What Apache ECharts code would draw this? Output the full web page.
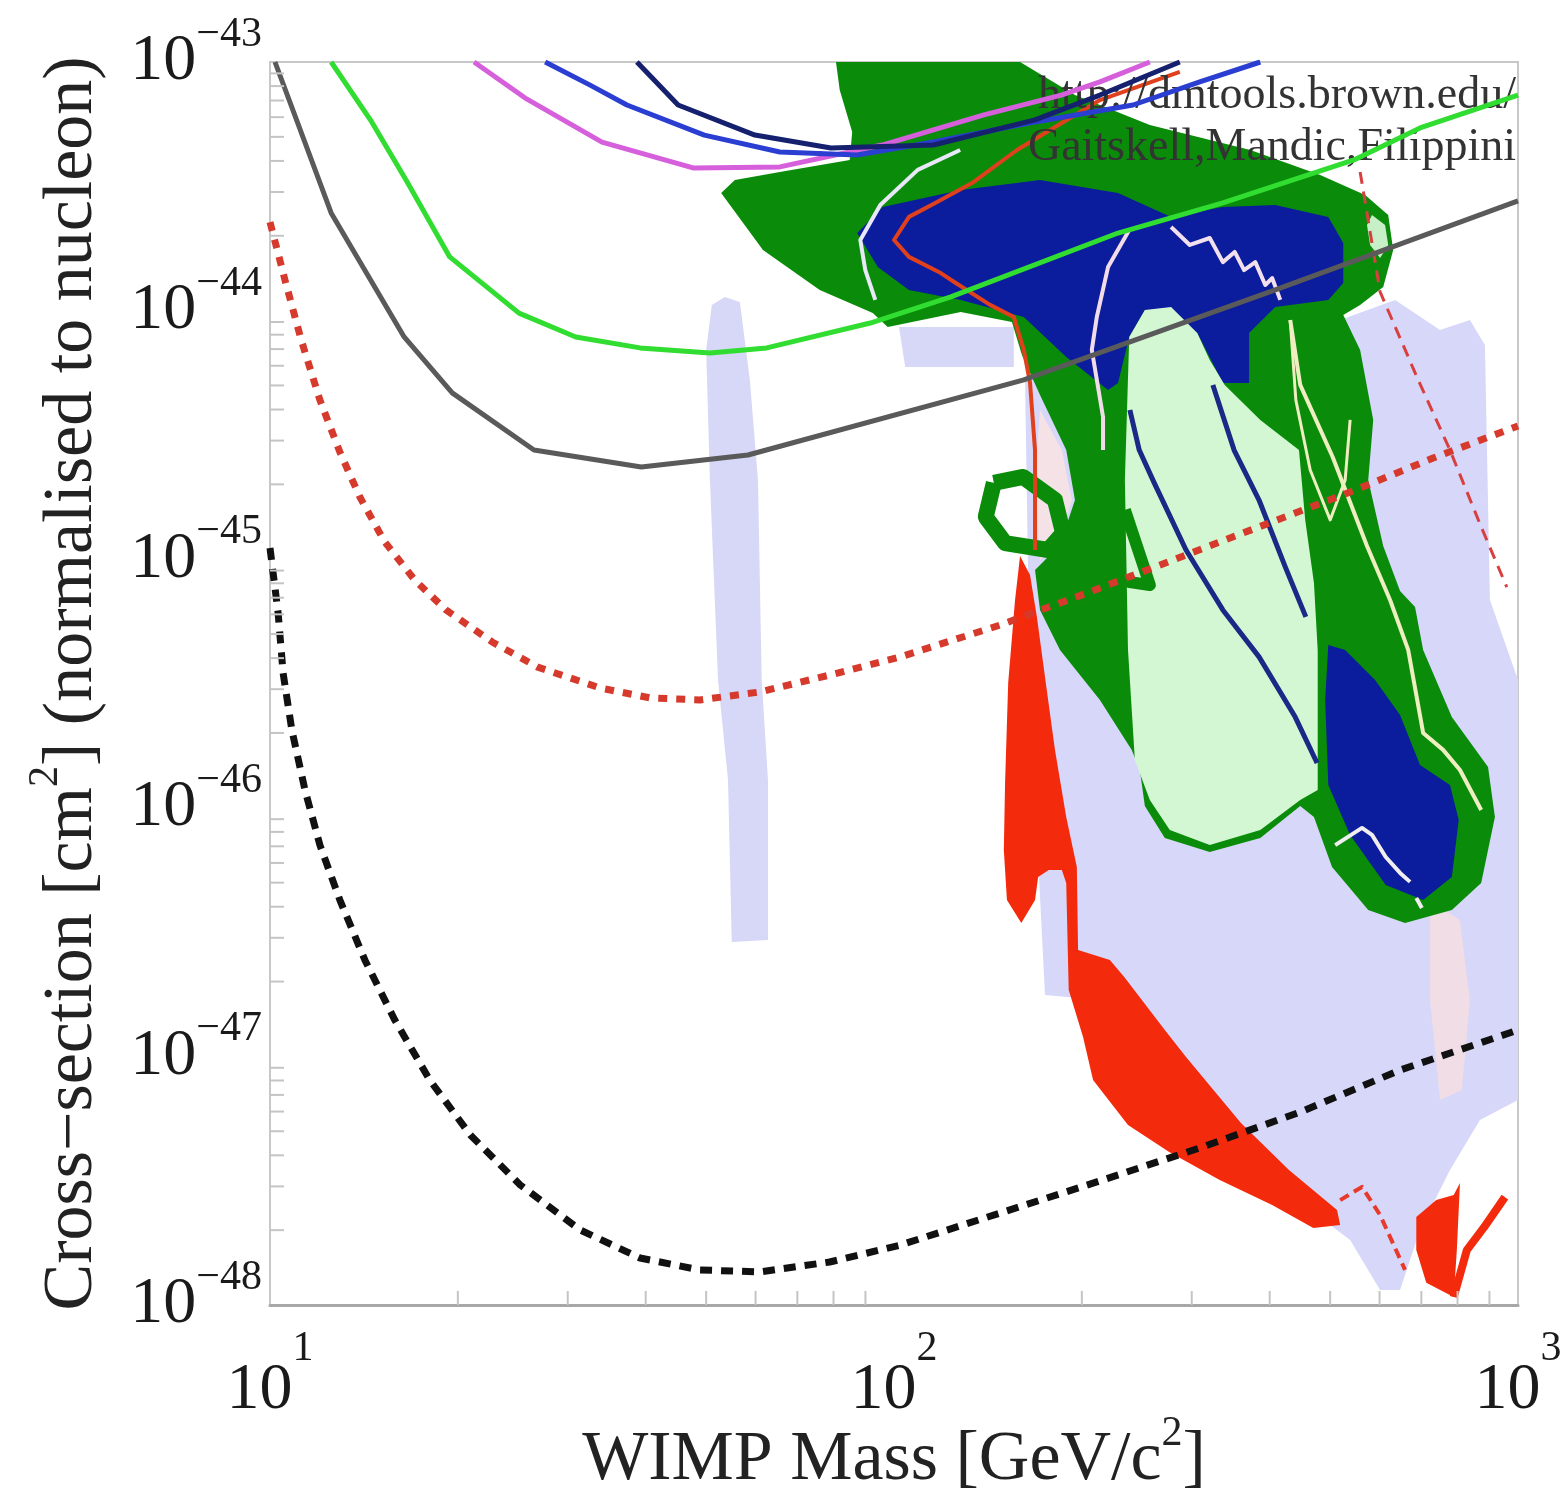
<!DOCTYPE html>
<html><head><meta charset="utf-8">
<script src="https://cdn.jsdelivr.net/npm/echarts@6/dist/echarts.min.js"></script>
<style>html,body{margin:0;padding:0;background:#fff}#c{width:1563px;height:1492px}</style>
</head><body><div id="c"></div>
<script>
// x = log10(WIMP mass / GeV), y = log10(cross-section / cm^2)
const xTickExponents = [1, 2, 3];
const yTickExponents = [-48, -47, -46, -45, -44, -43];
const minorTickMultipliers = [2, 3, 4, 5, 6, 7, 8, 9];

// exclusion limit curves
const greyLimit = [[1.008,-43.0],[1.098,-43.607],[1.215,-44.106],[1.292,-44.331],[1.423,-44.561],[1.595,-44.629],[1.766,-44.581],[2.208,-44.279],[2.611,-43.917],[3.0,-43.559]];
const greenLimit = [[1.098,-43.0],[1.163,-43.241],[1.218,-43.475],[1.288,-43.784],[1.399,-44.010],[1.490,-44.106],[1.593,-44.150],[1.705,-44.171],[1.796,-44.150],[1.962,-44.050],[2.091,-43.945],[2.359,-43.688],[2.527,-43.567],[2.737,-43.394],[2.843,-43.265],[3.0,-43.133]];
const magentaLimit = [[1.327,-43.0],[1.409,-43.145],[1.532,-43.322],[1.678,-43.426],[1.817,-43.422],[1.981,-43.334],[2.144,-43.213],[2.268,-43.133],[2.330,-43.080],[2.410,-43.0]];
const blueLimit = [[1.441,-43.0],[1.513,-43.093],[1.572,-43.173],[1.696,-43.294],[1.817,-43.362],[1.941,-43.374],[2.063,-43.322],[2.226,-43.241],[2.383,-43.173],[2.490,-43.080],[2.587,-43.0]];
const navyLimit = [[1.588,-43.0],[1.654,-43.173],[1.777,-43.294],[1.899,-43.346],[2.063,-43.334],[2.226,-43.233],[2.330,-43.133],[2.458,-43.0]];
const redProjection = [[1.0,-43.644],[1.024,-43.877],[1.050,-44.118],[1.080,-44.360],[1.112,-44.569],[1.144,-44.750],[1.184,-44.931],[1.232,-45.084],[1.282,-45.204],[1.356,-45.333],[1.429,-45.434],[1.529,-45.518],[1.609,-45.558],[1.689,-45.566],[1.785,-45.534],[1.897,-45.466],[2.010,-45.393],[2.170,-45.265],[2.322,-45.124],[2.439,-45.011],[2.614,-44.842],[2.731,-44.730],[2.864,-44.593],[3.0,-44.464]];
const blackProjection = [[1.0,-44.955],[1.013,-45.216],[1.021,-45.458],[1.035,-45.687],[1.056,-45.928],[1.080,-46.150],[1.112,-46.371],[1.152,-46.612],[1.200,-46.854],[1.256,-47.095],[1.321,-47.316],[1.401,-47.517],[1.497,-47.698],[1.593,-47.811],[1.689,-47.859],[1.785,-47.867],[1.897,-47.827],[2.010,-47.759],[2.170,-47.630],[2.330,-47.501],[2.490,-47.368],[2.651,-47.224],[2.811,-47.055],[3.0,-46.894]];
const redThin = [[2.458,-43.040],[2.330,-43.153],[2.197,-43.354],[2.125,-43.487],[2.066,-43.567],[2.024,-43.623],[2.0,-43.716],[2.024,-43.784],[2.075,-43.849],[2.099,-43.889],[2.154,-43.977],[2.192,-44.026],[2.208,-44.158],[2.218,-44.291],[2.226,-44.561],[2.226,-44.963]];
const redDashedRight = [[2.747,-43.442],[2.779,-43.925],[2.838,-44.267],[2.891,-44.561],[2.939,-44.858],[2.982,-45.112]];

// allowed regions
const lavenderBand = [[1.708,-43.977],[1.729,-43.945],[1.753,-43.965],[1.769,-44.279],[1.782,-44.681],[1.788,-45.486],[1.798,-45.888],[1.798,-46.532],[1.740,-46.540],[1.734,-45.888],[1.718,-45.486],[1.705,-44.681],[1.699,-44.158]];
const lavenderMain = [[2.210,-44.279],[2.282,-44.118],[2.715,-44.038],[2.803,-43.957],[2.875,-44.078],[2.923,-44.038],[2.947,-44.138],[2.955,-45.164],[3.0,-45.486],[3.0,-47.175],[2.939,-47.256],[2.891,-47.457],[2.843,-47.698],[2.811,-47.940],[2.779,-47.940],[2.731,-47.739],[2.699,-47.678],[2.651,-47.578],[2.330,-46.773],[2.242,-46.753],[2.218,-45.566]];
const lavenderPatch = [[2.008,-44.066],[2.192,-44.066],[2.192,-44.227],[2.018,-44.227]];
const pinkRight = [[2.859,-46.371],[2.907,-46.451],[2.923,-46.773],[2.910,-47.135],[2.875,-47.175],[2.859,-46.773]];
const pinkLeft = [[2.234,-44.4],[2.269,-44.561],[2.285,-44.762],[2.263,-44.943],[2.234,-45.003],[2.226,-44.681]];
const redStrip = [[2.202,-44.987],[2.218,-45.064],[2.229,-45.232],[2.247,-45.566],[2.258,-45.767],[2.276,-46.037],[2.293,-46.238],[2.295,-46.572],[2.346,-46.612],[2.369,-46.681],[2.434,-46.894],[2.468,-47.002],[2.556,-47.268],[2.633,-47.457],[2.710,-47.618],[2.715,-47.678],[2.672,-47.690],[2.606,-47.598],[2.522,-47.497],[2.441,-47.385],[2.375,-47.276],[2.319,-47.095],[2.303,-46.922],[2.280,-46.733],[2.276,-46.302],[2.269,-46.250],[2.248,-46.250],[2.231,-46.278],[2.226,-46.371],[2.204,-46.463],[2.181,-46.371],[2.176,-46.170],[2.178,-45.900],[2.183,-45.498],[2.194,-45.164]];
const redLobe = [[2.837,-47.646],[2.869,-47.578],[2.897,-47.558],[2.907,-47.509],[2.902,-47.779],[2.897,-47.968],[2.853,-47.911],[2.837,-47.779]];
const redArm = [[2.897,-47.968],[2.918,-47.779],[2.946,-47.686],[2.979,-47.566]];
const redHook = [[2.715,-47.578],[2.750,-47.525],[2.779,-47.638],[2.819,-47.859]];
const greenOuter = [[1.907,-43.0],[2.202,-43.0],[2.290,-43.133],[2.410,-43.253],[2.571,-43.354],[2.683,-43.455],[2.755,-43.535],[2.792,-43.615],[2.800,-43.756],[2.784,-43.905],[2.747,-43.977],[2.720,-44.018],[2.747,-44.158],[2.768,-44.440],[2.760,-44.681],[2.784,-44.947],[2.811,-45.128],[2.835,-45.192],[2.848,-45.365],[2.894,-45.635],[2.952,-45.836],[2.963,-46.037],[2.941,-46.302],[2.894,-46.411],[2.819,-46.463],[2.760,-46.411],[2.702,-46.238],[2.673,-46.037],[2.651,-45.993],[2.587,-46.121],[2.506,-46.178],[2.434,-46.121],[2.402,-45.993],[2.394,-45.848],[2.381,-45.767],[2.330,-45.566],[2.266,-45.365],[2.234,-45.204],[2.226,-45.043],[2.266,-44.943],[2.290,-44.762],[2.276,-44.561],[2.234,-44.340],[2.205,-44.179],[2.189,-44.046],[2.107,-44.006],[1.990,-44.066],[1.966,-44.010],[1.881,-43.917],[1.790,-43.756],[1.723,-43.527],[1.745,-43.475],[1.817,-43.442],[1.929,-43.394],[1.933,-43.282],[1.913,-43.113]];
const greenLoop = [[2.160,-44.693],[2.207,-44.669],[2.258,-44.762],[2.271,-44.895],[2.247,-44.963],[2.178,-44.935],[2.147,-44.830],[2.160,-44.693]];
const greenHook = [[2.370,-44.802],[2.394,-44.983],[2.410,-45.104],[2.378,-45.092],[2.330,-45.043],[2.282,-45.003]];
const blueTop = [[1.941,-43.688],[1.982,-43.583],[2.107,-43.515],[2.234,-43.475],[2.359,-43.527],[2.444,-43.623],[2.527,-43.583],[2.611,-43.575],[2.696,-43.623],[2.720,-43.728],[2.720,-43.889],[2.696,-43.957],[2.611,-43.986],[2.569,-44.090],[2.569,-44.291],[2.527,-44.291],[2.486,-44.090],[2.402,-43.998],[2.377,-44.106],[2.359,-44.291],[2.343,-44.319],[2.276,-44.187],[2.208,-44.026],[2.107,-43.957],[2.024,-43.917],[1.974,-43.825]];
const lightGreen = [[2.370,-44.681],[2.377,-44.106],[2.402,-43.998],[2.444,-43.986],[2.486,-44.090],[2.506,-44.199],[2.530,-44.299],[2.587,-44.440],[2.649,-44.561],[2.659,-44.842],[2.673,-45.096],[2.679,-45.365],[2.679,-45.928],[2.651,-45.969],[2.587,-46.089],[2.506,-46.150],[2.442,-46.089],[2.410,-45.969],[2.386,-45.808],[2.375,-45.365]];
const lightGreenSmall = [[2.766,-43.615],[2.787,-43.656],[2.792,-43.736],[2.779,-43.788],[2.763,-43.736],[2.758,-43.656]];
const blueLower = [[2.696,-45.345],[2.723,-45.365],[2.771,-45.486],[2.811,-45.627],[2.843,-45.828],[2.891,-45.908],[2.905,-46.049],[2.894,-46.278],[2.848,-46.371],[2.788,-46.311],[2.731,-46.109],[2.696,-45.908],[2.691,-45.566]];
const navyInner1 = [[2.378,-44.4],[2.393,-44.561],[2.417,-44.693],[2.468,-44.963],[2.527,-45.204],[2.585,-45.393],[2.643,-45.635],[2.678,-45.820]];
const navyInner2 = [[2.511,-44.299],[2.545,-44.561],[2.585,-44.762],[2.627,-45.031],[2.660,-45.232]];
const paleEdge = [[2.106,-43.354],[2.038,-43.434],[1.978,-43.575],[1.946,-43.716],[1.954,-43.837],[1.970,-43.957]];
const paleZigzag = [[2.444,-43.664],[2.474,-43.736],[2.506,-43.708],[2.527,-43.805],[2.546,-43.764],[2.561,-43.837],[2.579,-43.805],[2.595,-43.897],[2.606,-43.869],[2.619,-43.957]];
const palePink = [[2.377,-43.676],[2.343,-43.825],[2.325,-44.026],[2.317,-44.158],[2.335,-44.428],[2.335,-44.561]];
const creamOuter = [[2.635,-44.038],[2.651,-44.299],[2.703,-44.589],[2.758,-44.947],[2.795,-45.164],[2.824,-45.365],[2.848,-45.699],[2.880,-45.767],[2.907,-45.848],[2.941,-46.009]];
const creamInner = [[2.635,-44.038],[2.644,-44.360],[2.667,-44.641],[2.699,-44.842],[2.723,-44.681],[2.731,-44.440]];
const whiteHook = [[2.707,-46.150],[2.750,-46.081],[2.766,-46.109],[2.788,-46.198],[2.811,-46.262],[2.827,-46.298]];
const whiteDash = [[2.837,-46.363],[2.846,-46.403]];

const SERIF = '"Liberation Serif","DejaVu Serif",serif';

function region(name, pts, color) {
  return {
    type: 'custom', name: name, data: pts, silent: true, clip: true, z: 2,
    encode: { x: 0, y: 1 },
    renderItem: function (params, api) {
      if (params.dataIndexInside !== 0) return null;
      return { type: 'polygon', shape: { points: pts.map(function (p) { return api.coord(p); }) }, style: { fill: color } };
    }
  };
}
function curve(name, pts, color, width, dash, z) {
  return {
    type: 'line', name: name, data: pts, showSymbol: false, symbol: 'none', silent: true, z: z || 2,
    lineStyle: { color: color, width: width, type: dash || 'solid', cap: 'butt', join: 'round' }
  };
}
// minor log ticks, placed through the axes
const xMinor = [], yMinor = [];
for (let d = xTickExponents[0]; d < xTickExponents[xTickExponents.length - 1]; d++)
  minorTickMultipliers.forEach(function (k) { xMinor.push([d + Math.log10(k), yTickExponents[0]]); });
for (let d = yTickExponents[0]; d < yTickExponents[yTickExponents.length - 1]; d++)
  minorTickMultipliers.forEach(function (k) { yMinor.push([xTickExponents[0], d + Math.log10(k)]); });
function ticks(name, pts, dir) {
  return {
    type: 'custom', name: name, data: pts, silent: true, encode: { x: 0, y: 1 }, z: 5,
    renderItem: function (params, api) {
      const p = api.coord([api.value(0), api.value(1)]);
      const q = dir === 'x' ? [p[0], p[1] - 14] : [p[0] + 14, p[1]];
      return { type: 'line', shape: { x1: p[0], y1: p[1], x2: q[0], y2: q[1] }, style: { stroke: '#c4c4c4', lineWidth: 2 } };
    }
  };
}

const chart = echarts.init(document.getElementById('c'));
chart.setOption({
  animation: false,
  backgroundColor: '#ffffff',
  grid: { left: 270, right: 45, top: 62, bottom: 187, containLabel: false, outerBoundsMode: 'none', show: true, borderColor: '#c8c8c8', borderWidth: 2, backgroundColor: 'transparent' },
  xAxis: {
    type: 'value', min: xTickExponents[0], max: xTickExponents[xTickExponents.length - 1], interval: 1,
    axisLine: { show: true, lineStyle: { color: '#a8a8a8', width: 3 } },
    axisTick: { show: false }, splitLine: { show: false },
    axisLabel: {
      margin: 23,
      formatter: function (v) { return '{b|10}{e|' + v + '}'; },
      rich: {
        b: { fontSize: 66, lineHeight: 96, verticalAlign: 'bottom', fontFamily: SERIF, color: '#1a1a1a' },
        e: { fontSize: 42, lineHeight: 38, verticalAlign: 'top', fontFamily: SERIF, color: '#1a1a1a' }
      }
    },
    name: 'WIMP Mass [GeV/c{s|2}]', nameLocation: 'middle', nameGap: 108, nameMoveOverlap: false,
    nameTextStyle: {
      fontSize: 70, lineHeight: 96, fontFamily: SERIF, color: '#222',
      rich: { s: { fontSize: 42, lineHeight: 40, verticalAlign: 'top', fontFamily: SERIF, color: '#222' } }
    }
  },
  yAxis: {
    type: 'value', min: yTickExponents[0], max: yTickExponents[yTickExponents.length - 1], interval: 1,
    axisLine: { show: true, lineStyle: { color: '#c8c8c8', width: 2 } },
    axisTick: { show: false }, splitLine: { show: false },
    axisLabel: {
      margin: 8,
      formatter: function (v) { return '{b|10}{e|\u2212' + Math.abs(v) + '}'; },
      rich: {
        b: { fontSize: 66, lineHeight: 96, fontFamily: SERIF, color: '#1a1a1a' },
        e: { fontSize: 42, lineHeight: 38, verticalAlign: 'top', fontFamily: SERIF, color: '#1a1a1a' }
      }
    },
    name: 'Cross\u2212section [cm{s|2}] (normalised to nucleon)', nameLocation: 'middle', nameGap: 149, nameRotate: 90, nameMoveOverlap: false,
    nameTextStyle: {
      fontSize: 70, lineHeight: 96, fontFamily: SERIF, color: '#222',
      rich: { s: { fontSize: 42, lineHeight: 40, verticalAlign: 'top', fontFamily: SERIF, color: '#222' } }
    }
  },
  graphic: [{
    type: 'text', right: 47, top: 70, z: 2, z2: 1000,
    style: { text: 'http://dmtools.brown.edu/\nGaitskell,Mandic,Filippini', font: '46px "Liberation Serif"', fill: '#333333', textAlign: 'right', lineHeight: 52 }
  }],
  series: [
    region('lavenderBand', lavenderBand, '#d7d7f7'),
    region('lavenderMain', lavenderMain, '#d7d7f9'),
    region('lavenderPatch', lavenderPatch, '#d7d7f7'),
    region('pinkRight', pinkRight, '#f1dde6'),
    region('pinkLeft', pinkLeft, '#f4e2e6'),
    region('redStrip', redStrip, '#f42a0c'),
    region('redLobe', redLobe, '#f42a0c'),
    curve('redArm', redArm, '#f42a0c', 8),
    curve('redHook', redHook, '#e83a2a', 4, [10, 6]),
    region('greenOuter', greenOuter, '#0a8c0a'),
    curve('greenLoop', greenLoop, '#0a8c0a', 16),
    region('blueTop', blueTop, '#0b1c9c'),
    region('lightGreen', lightGreen, '#d3f7d3'),
    region('lightGreenSmall', lightGreenSmall, '#c8f0c8'),
    region('blueLower', blueLower, '#0b1c9c'),
    curve('greenHook', greenHook, '#0a8c0a', 12),
    curve('navyInner1', navyInner1, '#1a2886', 5),
    curve('navyInner2', navyInner2, '#1a2886', 5),
    curve('paleEdge', paleEdge, '#e8e8f8', 4),
    curve('paleZigzag', paleZigzag, '#f2e0ee', 4),
    curve('palePink', palePink, '#f2dcea', 4),
    curve('creamOuter', creamOuter, '#eeeec0', 4),
    curve('creamInner', creamInner, '#eeeec0', 3),
    curve('whiteHook', whiteHook, '#f0eef0', 4),
    curve('whiteDash', whiteDash, '#f0eef0', 4),
    curve('redThin', redThin, '#e0401c', 4),
    curve('redDashedRight', redDashedRight, '#d84040', 3, [12, 8]),
    curve('magentaLimit', magentaLimit, '#d660dc', 5, null, 3),
    curve('blueLimit', blueLimit, '#2a3ed2', 5, null, 3),
    curve('navyLimit', navyLimit, '#15206e', 5, null, 3),
    curve('greenLimit', greenLimit, '#30dd30', 5, null, 3),
    curve('greyLimit', greyLimit, '#5a5a5a', 5, null, 3),
    curve('redProjection', redProjection, '#d63a2c', 7, [9, 9], 3),
    curve('blackProjection', blackProjection, '#111111', 7, [12, 9], 3),
    ticks('xMinorTicks', xMinor, 'x'),
    ticks('yMinorTicks', yMinor, 'y')
  ]
});
</script>
</body></html>
